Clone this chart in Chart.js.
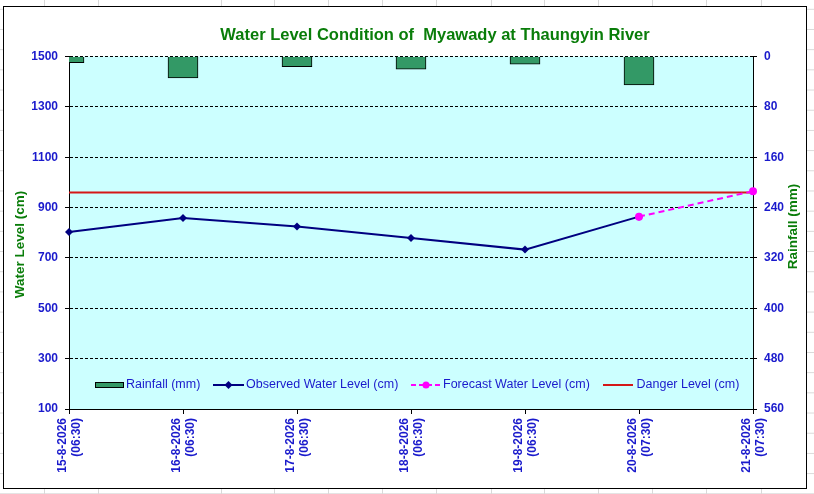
<!DOCTYPE html>
<html>
<head>
<meta charset="utf-8">
<title>Water Level Condition of Myawady at Thaungyin River</title>
<script src="https://cdn.jsdelivr.net/npm/chart.js@4.4.1/dist/chart.umd.min.js"></script>
<style>
    html, body {
        margin: 0;
        padding: 0;
    }
    body {
        position: relative;
        width: 814px;
        height: 494px;
        overflow: hidden;
        background-color: #fff;
        background-image: linear-gradient(to bottom, #d9d9d9 1px, transparent 1px);
        background-size: 100% 20.2px;
        background-position: 0 8.8px;
    }
    .vline {
        position: absolute;
        top: 0;
        width: 1px;
        height: 494px;
        background: #d9d9d9;
    }
    #box {
        position: absolute;
        left: 3px;
        top: 6px;
        width: 802px;
        height: 481px;
        border: 1px solid #000;
        background: #fff;
    }
</style>
</head>
<body>
<div id="box"><canvas id="chart" width="802" height="481"></canvas></div>
<script>
const dates = [
    ['15-8-2026', '(06:30)'],
    ['16-8-2026', '(06:30)'],
    ['17-8-2026', '(06:30)'],
    ['18-8-2026', '(06:30)'],
    ['19-8-2026', '(06:30)'],
    ['20-8-2026', '(07:30)'],
    ['21-8-2026', '(07:30)']
];
const rainfall = [10, 34, 16, 20, 12, 45, null];
const observedLevel = [803, 859, 825, 779, 733, 864, null];
const forecastLevel = [null, null, null, null, null, 864, 965];
const dangerLevel = [960, 960, 960, 960, 960, 960, 960];
const levelTicks = [100, 300, 500, 700, 900, 1100, 1300, 1500];
const rainTicks = [0, 80, 160, 240, 320, 400, 480, 560];

const FONT = '"Liberation Sans", Arial, sans-serif';
const BLUE = '#1a1acc';
const GREEN = '#0a7d0a';

// spreadsheet column lines behind the chart
[44, 98, 221, 274, 328, 382, 436, 491, 544, 598, 652, 706, 761].forEach(x => {
    const d = document.createElement('div');
    d.className = 'vline';
    d.style.left = x + 'px';
    document.body.insertBefore(d, document.getElementById('box'));
});

const plotBackground = {
    id: 'plotBackground',
    beforeDraw(chart) {
        const { ctx, chartArea: a } = chart;
        ctx.save();
        ctx.fillStyle = '#ccffff';
        ctx.fillRect(a.left, a.top, a.right - a.left, a.bottom - a.top);
        ctx.restore();
    }
};

// vertical axis title reading bottom to top
function axisTitle(ctx, text, x, y) {
    ctx.save();
    ctx.translate(x, y);
    ctx.rotate(-Math.PI / 2);
    ctx.font = 'bold 13.5px ' + FONT;
    ctx.fillStyle = GREEN;
    ctx.textAlign = 'center';
    ctx.textBaseline = 'middle';
    ctx.fillText(text, 0, 0);
    ctx.restore();
}

// title, axis titles and the legend inside the plot
const extraText = {
    id: 'extraText',
    afterDraw(chart) {
        const ctx = chart.ctx;
        const ds = chart.data.datasets;
        ctx.save();

        ctx.fillStyle = GREEN;
        ctx.font = 'bold 16.5px ' + FONT;
        ctx.textAlign = 'center';
        ctx.textBaseline = 'alphabetic';
        ctx.fillText('Water Level Condition of  Myawady at Thaungyin River', 431, 32.5);

        axisTitle(ctx, 'Water Level (cm)', 16, 237.5);
        axisTitle(ctx, 'Rainfall (mm)', 789, 219.5);

        const ly = 378;
        ctx.font = '12.5px ' + FONT;
        ctx.textAlign = 'left';
        ctx.textBaseline = 'middle';

        // Rainfall
        ctx.fillStyle = ds[3].backgroundColor;
        ctx.strokeStyle = '#000';
        ctx.lineWidth = 1;
        ctx.fillRect(91, ly - 3, 29, 6);
        ctx.strokeRect(91.5, ly - 2.5, 28, 5);
        ctx.fillStyle = BLUE;
        ctx.fillText(ds[3].label, 122, ly);

        // Observed
        ctx.strokeStyle = ds[0].borderColor;
        ctx.lineWidth = 2;
        ctx.beginPath();
        ctx.moveTo(209, ly);
        ctx.lineTo(240, ly);
        ctx.stroke();
        ctx.fillStyle = ds[0].borderColor;
        ctx.beginPath();
        ctx.moveTo(224.5, ly - 4);
        ctx.lineTo(228.5, ly);
        ctx.lineTo(224.5, ly + 4);
        ctx.lineTo(220.5, ly);
        ctx.closePath();
        ctx.fill();
        ctx.fillStyle = BLUE;
        ctx.fillText(ds[0].label, 242, ly);

        // Forecast
        ctx.strokeStyle = ds[1].borderColor;
        ctx.setLineDash([5, 3]);
        ctx.beginPath();
        ctx.moveTo(407, ly);
        ctx.lineTo(437, ly);
        ctx.stroke();
        ctx.setLineDash([]);
        ctx.fillStyle = ds[1].borderColor;
        ctx.beginPath();
        ctx.arc(422, ly, 3.5, 0, Math.PI * 2);
        ctx.fill();
        ctx.fillStyle = BLUE;
        ctx.fillText(ds[1].label, 439, ly);

        // Danger
        ctx.strokeStyle = ds[2].borderColor;
        ctx.beginPath();
        ctx.moveTo(599, ly);
        ctx.lineTo(629, ly);
        ctx.stroke();
        ctx.fillStyle = BLUE;
        ctx.fillText(ds[2].label, 632.5, ly);

        ctx.restore();
    }
};

const tickFont = { family: FONT, size: 12, weight: 'bold', lineHeight: 1.1 };
const plainNumber = v => String(v);

new Chart(document.getElementById('chart').getContext('2d'), {
    type: 'bar',
    data: {
        labels: dates,
        datasets: [
            {
                type: 'line',
                label: 'Observed Water Level (cm)',
                data: observedLevel,
                yAxisID: 'y',
                borderColor: '#000080',
                backgroundColor: '#000080',
                borderWidth: 2,
                tension: 0,
                pointStyle: 'rectRot',
                pointRadius: 4,
                pointBorderWidth: 0,
                order: 2
            },
            {
                type: 'line',
                label: 'Forecast Water Level (cm)',
                data: forecastLevel,
                yAxisID: 'y',
                borderColor: '#ff00ff',
                backgroundColor: '#ff00ff',
                borderWidth: 2,
                borderDash: [6, 4],
                tension: 0,
                pointStyle: 'circle',
                pointRadius: 4,
                pointBorderWidth: 0,
                order: 1
            },
            {
                type: 'line',
                label: 'Danger Level (cm)',
                data: dangerLevel,
                yAxisID: 'y',
                borderColor: '#d41818',
                borderWidth: 2,
                pointRadius: 0,
                tension: 0,
                order: 3
            },
            {
                type: 'bar',
                label: 'Rainfall (mm)',
                data: rainfall,
                yAxisID: 'y1',
                backgroundColor: '#339966',
                borderColor: '#000',
                borderWidth: 1,
                barThickness: 30,
                order: 4
            }
        ]
    },
    options: {
        responsive: false,
        animation: false,
        layout: {
            padding: { top: 49.5, left: 0, right: 0, bottom: 0 }
        },
        plugins: {
            legend: { display: false },
            title: { display: false },
            tooltip: { enabled: false }
        },
        scales: {
            x: {
                type: 'category',
                offset: false,
                grid: {
                    offset: false,
                    drawOnChartArea: false,
                    drawTicks: true,
                    tickLength: 5,
                    color: '#000'
                },
                border: { display: true, color: '#000', width: 1 },
                ticks: {
                    autoSkip: false,
                    minRotation: 90,
                    maxRotation: 90,
                    labelOffset: -6,
                    color: BLUE,
                    font: tickFont,
                    padding: 4
                },
                afterFit(scale) {
                    scale.height = 79;
                }
            },
            y: {
                position: 'left',
                min: 100,
                max: 1500,
                afterBuildTicks(scale) {
                    scale.ticks = levelTicks.map(v => ({ value: v }));
                },
                grid: {
                    color: '#000',
                    lineWidth: 1,
                    tickLength: 4
                },
                border: { display: true, color: '#000', width: 1, dash: [3, 2] },
                ticks: {
                    color: BLUE,
                    font: tickFont,
                    padding: 7,
                    callback: plainNumber
                },
                afterFit(scale) {
                    scale.width = 65;
                }
            },
            y1: {
                position: 'right',
                reverse: true,
                min: 0,
                max: 560,
                afterBuildTicks(scale) {
                    scale.ticks = rainTicks.map(v => ({ value: v }));
                },
                grid: {
                    drawOnChartArea: false,
                    color: '#000',
                    tickLength: 4
                },
                border: { display: true, color: '#000', width: 1 },
                ticks: {
                    color: BLUE,
                    font: tickFont,
                    padding: 7,
                    callback: plainNumber
                },
                afterFit(scale) {
                    scale.width = 53;
                }
            }
        }
    },
    plugins: [plotBackground, extraText]
});
</script>
</body>
</html>
